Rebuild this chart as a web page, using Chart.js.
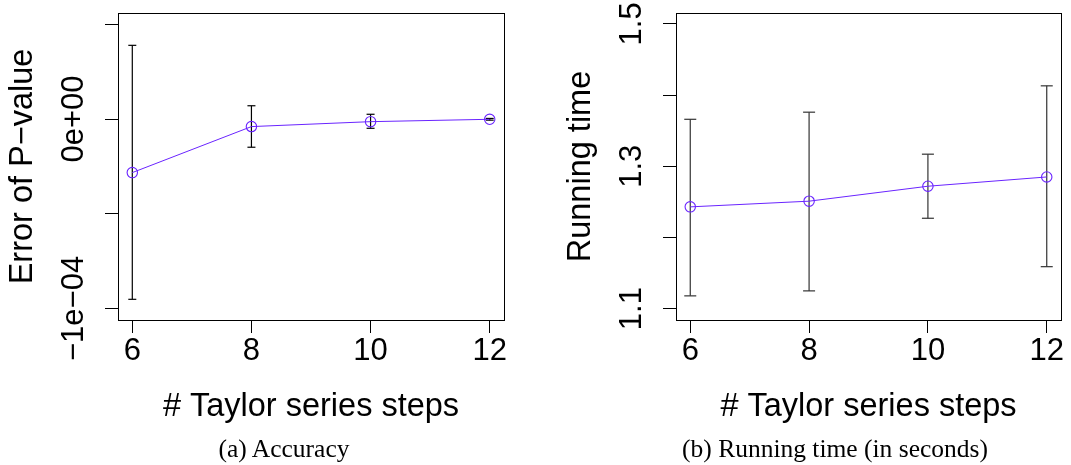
<!DOCTYPE html>
<html lang="en">
<head>
    <meta charset="UTF-8">
    <title>Taylor series steps: accuracy and running time</title>
    <script src="https://cdn.jsdelivr.net/npm/chart.js"></script>
    <style>
        body {
            margin: 0;
            background: #fff;
            width: 1071px;
            height: 465px;
            overflow: hidden;
            position: relative;
        }
        .panel {
            position: absolute;
            top: 0;
            height: 465px;
        }
        #panelA { left: 0; width: 535px; }
        #panelB { left: 535px; width: 536px; }
        .caption {
            position: absolute;
            top: 436px;
            font-family: "Liberation Serif", "Times New Roman", serif;
            font-size: 25.5px;
            line-height: 25px;
            color: #000;
            white-space: nowrap;
            transform: translateX(-50%);
        }
    </style>
</head>
<body>
    <div class="panel" id="panelA"><canvas id="accChart"></canvas></div>
    <div class="panel" id="panelB"><canvas id="timeChart"></canvas></div>
    <div class="caption" style="left:284px">(a) Accuracy</div>
    <div class="caption" style="left:835px">(b) Running time (in seconds)</div>

    <script>
        // x positions (Taylor series steps)
        const steps = [6, 8, 10, 12];

        // (a) error of P-value: mean and error bar ends
        const accMean = [-2.83e-5, -4.0e-6, -1.4e-6, -1.5e-7];
        const accLow  = [-9.52e-5, -1.49e-5, -4.9e-6, -6e-7];
        const accHigh = [3.89e-5, 7.0e-6, 2.5e-6, 3e-7];

        // (b) running time in seconds
        const timeMean = [1.243, 1.251, 1.272, 1.285];
        const timeLow  = [1.118, 1.125, 1.227, 1.159];
        const timeHigh = [1.366, 1.376, 1.317, 1.413];

        // tick values and labels
        const accTicks = [-1e-4, -5e-5, 0, 5e-5];
        const accTickLabels = ['\u22121e\u221204', '', '0e+00', ''];
        const timeTicks = [1.1, 1.2, 1.3, 1.4, 1.5];
        const timeTickLabels = ['1.1', '', '1.3', '', '1.5'];

        const SANS = '"Liberation Sans", Arial, Helvetica, sans-serif';
        const FS = 31;      // tick labels
        const TFS = 32.5;   // axis titles
        const LINE_COL = '#6a24ff';
        Chart.defaults.color = '#000';
        Chart.defaults.font.family = SANS;

        function measure(labels) {
            const c = document.createElement('canvas').getContext('2d');
            c.font = FS + 'px ' + SANS;
            return Math.max(...labels.map(l => c.measureText(l).width));
        }

        const boxPlugin = {
            id: 'box',
            afterDraw(chart) {
                const a = chart.chartArea, ctx = chart.ctx;
                ctx.save();
                ctx.strokeStyle = '#000';
                ctx.lineWidth = 1;
                ctx.strokeRect(Math.round(a.left) + 0.5, Math.round(a.top) + 0.5,
                    Math.round(a.right - a.left), Math.round(a.bottom - a.top));
                ctx.restore();
            }
        };

        function errorSets(low, high, capR, col) {
            return steps.map((x, i) => ({
                data: [{x: x, y: low[i]}, {x: x, y: high[i]}],
                showLine: true,
                borderColor: col,
                borderWidth: 1.2,
                pointStyle: 'line',
                pointRadius: capR,
                pointBorderColor: col,
                pointBorderWidth: 1.2,
                pointHoverRadius: capR,
                order: 2
            }));
        }

        function noPad(s) {
            s.paddingTop = 0; s.paddingBottom = 0;
            s.paddingLeft = 0; s.paddingRight = 0;
        }

        function makeChart(id, opts) {
            const labelGap = 44;   // box edge to label centre
            const tickLen = 13;
            const widest = measure(opts.tickLabels);
            return new Chart(document.getElementById(id), {
                type: 'line',
                data: {
                    datasets: [{
                        data: steps.map((x, i) => ({x: x, y: opts.mean[i]})),
                        borderColor: LINE_COL,
                        borderWidth: 1,
                        pointStyle: 'circle',
                        pointRadius: 5.2,
                        pointBorderColor: LINE_COL,
                        pointBackgroundColor: 'rgba(0,0,0,0)',
                        pointBorderWidth: 1.1,
                        tension: 0,
                        order: 1
                    }].concat(errorSets(opts.low, opts.high, opts.capR, opts.barColor))
                },
                options: {
                    responsive: true,
                    maintainAspectRatio: false,
                    animation: false,
                    events: [],
                    layout: { padding: { left: 0, right: opts.padRight, top: 13, bottom: 25 } },
                    plugins: { legend: { display: false }, tooltip: { enabled: false } },
                    scales: {
                        x: {
                            type: 'linear',
                            min: 5.76,
                            max: 12.24,
                            afterBuildTicks: s => { s.ticks = steps.map(v => ({value: v})); },
                            afterFit: s => { s.height = 120; noPad(s); },
                            border: { display: false },
                            grid: { drawOnChartArea: false, drawTicks: true, tickLength: tickLen, color: '#000' },
                            ticks: { autoSkip: false, maxRotation: 0, padding: 0, font: { size: FS }, color: '#000' },
                            title: { display: true, text: '# Taylor series steps', font: { size: TFS },
                                     color: '#000', padding: { top: 0, bottom: 13 } }
                        },
                        y: {
                            type: 'linear',
                            min: opts.yMin,
                            max: opts.yMax,
                            afterBuildTicks: s => { s.ticks = opts.ticks.map(v => ({value: v})); },
                            afterFit: s => { s.width = opts.axisWidth; noPad(s); },
                            border: { display: false },
                            grid: { drawOnChartArea: false, drawTicks: true, tickLength: tickLen, color: '#000' },
                            ticks: {
                                autoSkip: false,
                                minRotation: 90,
                                maxRotation: 90,
                                crossAlign: 'center',
                                padding: labelGap - tickLen - widest / 2,
                                font: { size: FS },
                                color: '#000',
                                callback: (v, i) => opts.tickLabels[i]
                            },
                            title: { display: true, text: opts.title, font: { size: TFS },
                                     color: '#000', padding: { top: opts.titlePad, bottom: 0 } }
                        }
                    }
                },
                plugins: [boxPlugin]
            });
        }

        makeChart('accChart', {
            mean: accMean, low: accLow, high: accHigh, capR: 4, barColor: '#000',
            ticks: accTicks, tickLabels: accTickLabels,
            yMin: -1.0612e-4, yMax: 5.597e-5,
            axisWidth: 118, padRight: 31,
            title: 'Error of P\u2212value', titlePad: 4
        });

        makeChart('timeChart', {
            mean: timeMean, low: timeLow, high: timeHigh, capR: 6, barColor: '#333',
            ticks: timeTicks, tickLabels: timeTickLabels,
            yMin: 1.0841, yMax: 1.5153,
            axisWidth: 141, padRight: 10,
            title: 'Running time', titlePad: 26.8
        });
    </script>
</body>
</html>
